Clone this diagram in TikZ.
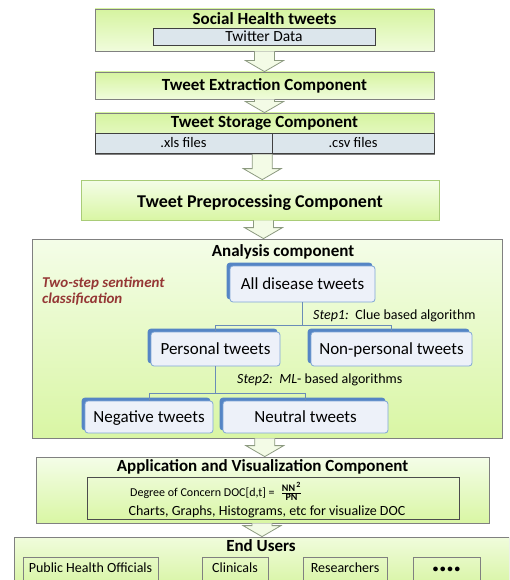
\documentclass[tikz,border=0pt]{standalone}
\usepackage{fontspec}
\setmainfont{Carlito}
\usetikzlibrary{positioning,calc}

\definecolor{greentop}{HTML}{D6F4A0}
\definecolor{greenbottom}{HTML}{F0FCDC}
\definecolor{paletop}{HTML}{F4FDE8}
\definecolor{palebottom}{HTML}{D9F6A4}
\definecolor{edgegray}{HTML}{808080}
\definecolor{edgegreen}{HTML}{A9CC78}
\definecolor{cellblue}{HTML}{DCE6EC}
\definecolor{tweetfill}{HTML}{EDF1F9}
\definecolor{tweetedge}{HTML}{7FA6D6}
\definecolor{tweetshadow}{HTML}{5585C5}
\definecolor{treeblue}{HTML}{6A8CB8}
\definecolor{darkred}{HTML}{953735}
\definecolor{arrowfill}{HTML}{F3FBE6}
\definecolor{arrowedge}{HTML}{8C9A80}

\newcommand{\flowarrow}[2]{%
  \path ($(#1.south)!.5!(#2.north)$) coordinate (fa-mid);
  \path (#1.south -| fa-mid) coordinate (fa-s) (#2.north -| fa-mid) coordinate (fa-e);
  \draw[hollow] ($(fa-s)+(-10,0)$) -- ($(fa-e)+(-10,-11)$) -- ($(fa-e)+(-19,-11)$) -- (fa-e)
    -- ($(fa-e)+(19,-11)$) -- ($(fa-e)+(10,-11)$) -- ($(fa-s)+(10,0)$);
}

\begin{document}
\begin{tikzpicture}[
    x=1pt, y=-1pt,
    stage/.style={rectangle, draw=edgegray, line width=0.8pt, top color=greentop, bottom color=greenbottom, inner sep=0pt},
    palestage/.style={rectangle, draw=edgegray, line width=0.8pt, top color=paletop, bottom color=palebottom, inner sep=0pt},
    cell/.style={rectangle, draw=black!75, line width=0.8pt, fill=cellblue, inner sep=0pt, font=\fontsize{14.5}{17}\selectfont, text height=9.5pt, text depth=0pt},
    tweetbox/.style={rectangle, rounded corners=3pt, draw=tweetedge, line width=0.8pt, fill=tweetfill, inner sep=0pt,
        font=\fontsize{17}{20}\selectfont, text height=11pt, text depth=0pt,
        preaction={fill=tweetshadow, draw=tweetshadow, transform canvas={shift={(-3pt,3pt)}}}},
    userbox/.style={rectangle, draw=edgegray, line width=0.8pt, inner sep=0pt, font=\fontsize{14}{17}\selectfont, text height=9pt, text depth=5pt},
    title/.style={anchor=base, inner sep=0pt, font=\bfseries\fontsize{17}{20}\selectfont},
    steplabel/.style={anchor=base west, inner sep=0pt, font=\fontsize{14}{17}\selectfont},
    tree/.style={draw=treeblue, line width=1pt},
    hollow/.style={draw=arrowedge, fill=arrowfill, line width=0.8pt}
]
\clip (0,0) rectangle (509,580);

% input and storage stages
\node[stage, minimum width=339pt, minimum height=42pt] (social) at (264.5,30) {};
\node[title] (socialtitle) at (264.5,25) {Social Health tweets};
\node[cell, minimum width=222pt, minimum height=17pt, font=\fontsize{15.5}{18}\selectfont, text height=10pt] (twitter) at (264,36.5) {Twitter Data};

\node[stage, minimum width=339pt, minimum height=27pt, font=\bfseries\fontsize{17}{20}\selectfont, text height=11pt, text depth=0pt] (extract) at (264.5,85.5) {Tweet Extraction Component};

\node[stage, minimum width=339pt, minimum height=41pt] (storage) at (264.5,133.5) {};
\node[title] (storagetitle) at (264.5,128) {Tweet Storage Component};
\node[cell, minimum width=177pt, minimum height=20pt] (xls) at (183.5,143) {.xls files};
\node[cell, minimum width=162pt, minimum height=20pt] (csv) at (353,143) {.csv files};

\node[palestage, draw=edgegreen, minimum width=358pt, minimum height=40pt, font=\bfseries\fontsize{18}{21}\selectfont, text height=14pt, text depth=0pt] (preproc) at (260,200) {Tweet Preprocessing Component};

% analysis
\node[palestage, minimum width=470pt, minimum height=199pt] (analysis) at (267,338.5) {};
\node[title] (analysistitle) at (283,256) {Analysis component};
\node[anchor=base west, inner sep=0pt, text=darkred, font=\bfseries\itshape\fontsize{15}{17}\selectfont] (twostepa) at (42,287) {Two-step sentiment};
\node[anchor=base west, inner sep=0pt, text=darkred, font=\bfseries\itshape\fontsize{15}{17}\selectfont] (twostepb) at (42,303) {classification};

\node[tweetbox, minimum width=145pt, minimum height=36pt] (all) at (302.5,284) {All disease tweets};
\node[tweetbox, minimum width=129pt, minimum height=34pt] (personal) at (215.5,349) {Personal tweets};
\node[tweetbox, minimum width=161pt, minimum height=34pt] (nonpersonal) at (391.5,349) {Non-personal tweets};
\node[tweetbox, minimum width=128pt, minimum height=32pt] (negative) at (149,417) {Negative tweets};
\node[tweetbox, minimum width=165pt, minimum height=32pt] (neutral) at (305.5,417) {Neutral tweets};

\draw[tree] (all.south) -- ++(0,23) coordinate (split1);
\draw[tree] (personal.north) |- (split1) -| (nonpersonal.north);
\draw[tree] (personal.south) -- ++(0,27) coordinate (split2);
\draw[tree] (negative.north) |- (split2) -| (neutral.north);
\node[steplabel] (step1) at (313,319) {\textit{Step1:}\, Clue based algorithm};
\node[steplabel] (step2) at (237,383) {\textit{Step2:\, ML}- based algorithms};

% application
\node[palestage, minimum width=453pt, minimum height=66pt] (app) at (262.5,490) {};
\node[title] (apptitle) at (262.5,471) {Application and Visualization Component};
\node[rectangle, draw=black!70, line width=0.8pt, minimum width=372pt, minimum height=42pt] (doc) at (273,498) {};
\node[anchor=base west, inner sep=0pt, font=\fontsize{12}{14}\selectfont] (docformula) at (130,496)
  {Degree of Concern DOC[d,t] =\; $\frac{\mbox{\fontsize{10}{12}\selectfont\bfseries NN}^{\mbox{\fontsize{8}{10}\selectfont\bfseries\,2}}}{\mbox{\fontsize{10}{12}\selectfont\bfseries PN}}$};
\node[anchor=base, inner sep=0pt, font=\fontsize{14}{17}\selectfont] (charts) at (267,515) {Charts, Graphs, Histograms, etc for visualize DOC};

% end users
\node[palestage, top color=greenbottom, bottom color=greentop, minimum width=495pt, minimum height=53pt] (endusers) at (261.5,563.5) {};
\node[title] (enduserstitle) at (261,551) {End Users};
\node[userbox, minimum width=135pt, minimum height=26pt] (officials) at (90.5,570) {Public Health Officials};
\node[userbox, minimum width=66pt, minimum height=26pt] (clinicals) at (235,570) {Clinicals};
\node[userbox, minimum width=84pt, minimum height=26pt] (researchers) at (345,570) {Researchers};
\node[userbox, minimum width=67pt, minimum height=26pt, font=\bfseries\fontsize{11}{13}\selectfont] (others) at (446.5,570) {\textbullet\,\textbullet\,\textbullet\,\textbullet};

\flowarrow{social}{extract}
\flowarrow{extract}{storage}
\flowarrow{storage}{preproc}
\flowarrow{preproc}{analysis}
\flowarrow{analysis}{app}
\flowarrow{app}{endusers}
\end{tikzpicture}
\end{document}
